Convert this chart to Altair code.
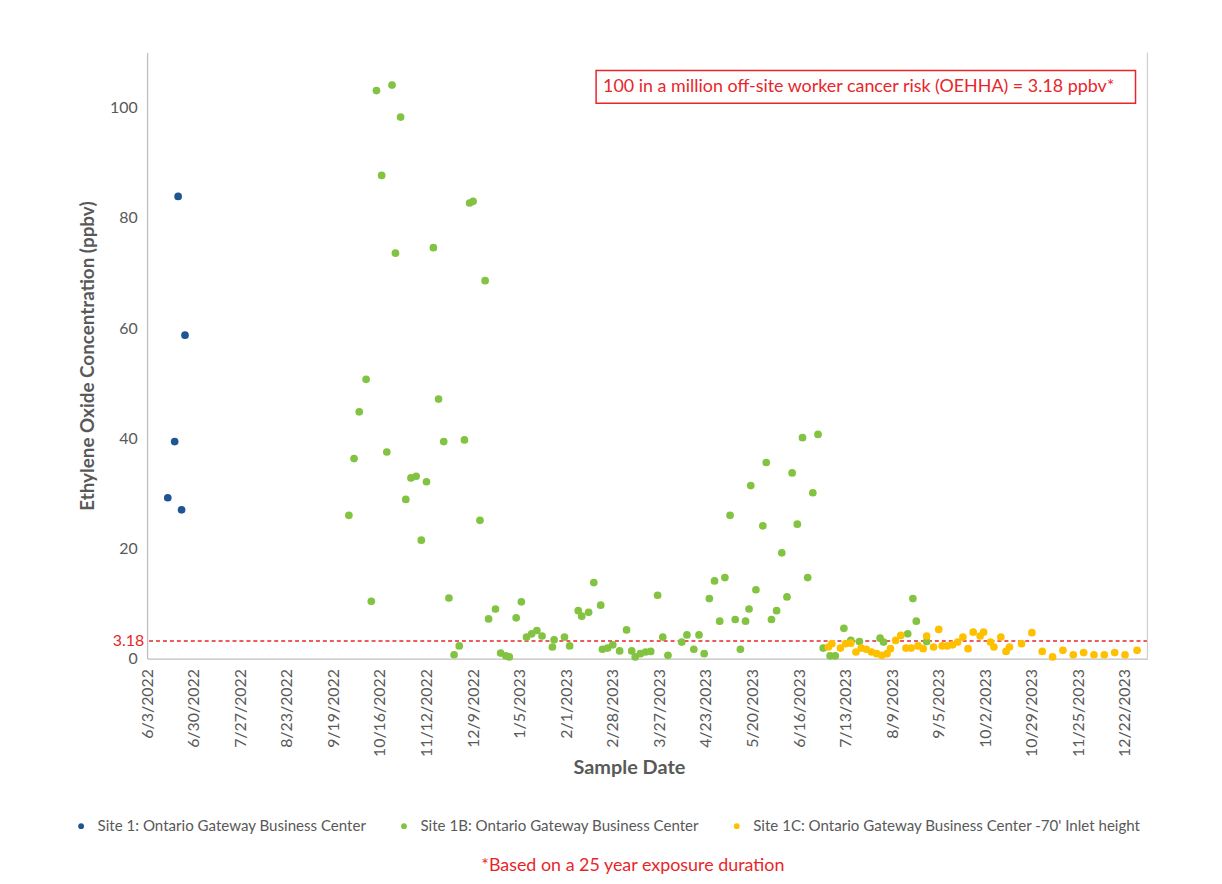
import altair as alt
import pandas as pd

# ---------------- data ----------------
sites = [
    "Site 1: Ontario Gateway Business Center",
    "Site 1B: Ontario Gateway Business Center",
    "Site 1C: Ontario Gateway Business Center -70' Inlet height",
]
site_colors = ["#1F5592", "#82C341", "#FFC000"]

site1_dates = ["6/15/2022", "6/19/2022", "6/21/2022", "6/23/2022", "6/25/2022"]
site1_values = [29.2, 39.4, 83.9, 27.0, 58.7]

site1b_dates = [
    "9/28/2022", "10/1/2022", "10/4/2022", "10/8/2022", "10/11/2022", "10/14/2022",
    "10/17/2022", "10/20/2022", "10/23/2022", "10/25/2022", "10/28/2022", "10/31/2022",
    "11/3/2022", "11/6/2022", "11/9/2022", "11/12/2022", "11/16/2022", "11/19/2022",
    "11/22/2022", "11/25/2022", "11/28/2022", "12/1/2022", "12/4/2022", "12/7/2022",
    "12/9/2022", "12/13/2022", "12/16/2022", "12/18/2022", "12/22/2022", "12/25/2022",
    "12/28/2022", "12/30/2022", "1/3/2023", "1/6/2023", "1/9/2023", "1/12/2023",
    "1/15/2023", "1/18/2023", "1/24/2023", "1/25/2023", "1/31/2023", "2/3/2023",
    "2/8/2023", "2/10/2023", "2/14/2023", "2/17/2023", "2/21/2023", "2/22/2023",
    "2/25/2023", "2/28/2023", "3/4/2023", "3/8/2023", "3/11/2023", "3/13/2023",
    "3/16/2023", "3/19/2023", "3/22/2023", "3/26/2023", "3/29/2023", "4/1/2023",
    "4/9/2023", "4/12/2023", "4/16/2023", "4/19/2023", "4/22/2023", "4/25/2023",
    "4/28/2023", "5/1/2023", "5/4/2023", "5/7/2023", "5/10/2023", "5/13/2023",
    "5/16/2023", "5/18/2023", "5/19/2023", "5/22/2023", "5/26/2023", "5/28/2023",
    "5/31/2023", "6/3/2023", "6/6/2023", "6/9/2023", "6/12/2023", "6/15/2023",
    "6/18/2023", "6/21/2023", "6/24/2023", "6/27/2023", "6/30/2023", "7/4/2023",
    "7/7/2023", "7/12/2023", "7/16/2023", "7/21/2023", "8/2/2023", "8/4/2023",
    "8/18/2023", "8/21/2023", "8/23/2023", "8/29/2023",
]
site1b_values = [
    26.0, 36.3, 44.8, 50.7, 10.4, 103.1,
    87.7, 37.5, 104.1, 73.6, 98.3, 28.9,
    32.8, 33.1, 21.5, 32.1, 74.6, 47.1,
    39.4, 11.0, 0.7, 2.3, 39.7, 82.7,
    83.0, 25.1, 68.6, 7.2, 9.0, 1.0,
    0.5, 0.3, 7.4, 10.3, 3.9, 4.5,
    5.1, 4.1, 2.1, 3.4, 3.9, 2.3,
    8.7, 7.7, 8.4, 13.8, 9.7, 1.7,
    1.9, 2.5, 1.4, 5.2, 1.4, 0.3,
    0.9, 1.2, 1.3, 11.5, 3.9, 0.6,
    3.0, 4.3, 1.7, 4.3, 0.9, 10.9,
    14.1, 6.8, 14.7, 26.0, 7.1, 1.7,
    6.8, 9.0, 31.4, 12.5, 24.1, 35.6,
    7.1, 8.7, 19.2, 11.2, 33.7, 24.4,
    40.1, 14.7, 30.1, 40.7, 1.9, 0.5,
    0.5, 5.5, 3.3, 3.1, 3.7, 3.0,
    4.5, 10.9, 6.8, 3.1,
]

site1c_dates = [
    "7/3/2023", "7/5/2023", "7/10/2023", "7/13/2023", "7/16/2023", "7/19/2023",
    "7/22/2023", "7/25/2023", "7/28/2023", "7/31/2023", "8/3/2023", "8/6/2023",
    "8/8/2023", "8/11/2023", "8/14/2023", "8/17/2023", "8/20/2023", "8/24/2023",
    "8/27/2023", "8/29/2023", "9/2/2023", "9/5/2023", "9/7/2023", "9/10/2023",
    "9/13/2023", "9/16/2023", "9/19/2023", "9/22/2023", "9/25/2023", "9/29/2023",
    "10/1/2023", "10/5/2023", "10/7/2023", "10/11/2023", "10/14/2023", "10/16/2023",
    "10/23/2023", "10/29/2023", "11/4/2023", "11/10/2023", "11/16/2023", "11/22/2023",
    "11/28/2023", "12/4/2023", "12/10/2023", "12/16/2023", "12/22/2023", "12/29/2023",
]
site1c_values = [
    2.1, 2.7, 1.9, 2.7, 2.8, 1.2,
    1.9, 1.7, 1.2, 0.9, 0.6, 0.9,
    1.8, 3.3, 4.2, 1.9, 1.9, 2.3,
    1.8, 4.1, 2.1, 5.3, 2.3, 2.3,
    2.5, 3.0, 3.9, 1.8, 4.8, 4.1,
    4.8, 3.0, 2.1, 3.9, 1.3, 2.1,
    2.7, 4.7, 1.3, 0.3, 1.5, 0.7,
    1.1, 0.7, 0.7, 1.1, 0.7, 1.5,
]

x_tick_labels = [
    "6/3/2022", "6/30/2022", "7/27/2022", "8/23/2022", "9/19/2022", "10/16/2022",
    "11/12/2022", "12/9/2022", "1/5/2023", "2/1/2023", "2/28/2023", "3/27/2023",
    "4/23/2023", "5/20/2023", "6/16/2023", "7/13/2023", "8/9/2023", "9/5/2023",
    "10/2/2023", "10/29/2023", "11/25/2023", "12/22/2023",
]
x_domain = ["6/3/2022", "1/4/2024"]
y_ticks = [0, 20, 40, 60, 80, 100]
y_domain = [0, 110]
threshold = 3.18
threshold_label = "3.18"
box_text = "100 in a million off-site worker cancer risk (OEHHA) = 3.18 ppbv*"
footnote = "*Based on a 25 year exposure duration"

# ---------------- helpers ----------------
def to_iso(s):
    m, d, y = s.split("/")
    return f"{y}-{int(m):02d}-{int(d):02d}"

def to_dt(s):
    m, d, y = s.split("/")
    return alt.DateTime(year=int(y), month=int(m), date=int(d), utc=True)

rows = []
for name, ds, vs in [(sites[0], site1_dates, site1_values),
                     (sites[1], site1b_dates, site1b_values),
                     (sites[2], site1c_dates, site1c_values)]:
    for d, v in zip(ds, vs):
        rows.append({"date": to_iso(d), "value": v, "site": name})
df = pd.DataFrame(rows)

RED = "#E8262A"
GRAY = "#595959"
FONT = "Lato"
W, H = 1007, 610

points = alt.Chart(df).mark_circle(size=60, opacity=1).encode(
    x=alt.X(
        "date:T",
        scale=alt.Scale(type="utc", domain=[to_dt(x_domain[0]), to_dt(x_domain[1])]),
        axis=alt.Axis(
            values=[to_dt(t) for t in x_tick_labels],
            labelExpr="utcFormat(datum.value, '%-m/%-d/%Y')",
            labelAngle=-90,
            labelPadding=10,
            labelFontSize=16,
            title="Sample Date",
            titleFontSize=20,
            titleFontWeight="bold",
            titleX=485,
            titleY=110,
            titleBaseline="middle",
        ),
    ),
    y=alt.Y(
        "value:Q",
        scale=alt.Scale(domain=y_domain, nice=False),
        axis=alt.Axis(
            values=y_ticks,
            labelPadding=10,
            labelFontSize=16,
            title="Ethylene Oxide Concentration (ppbv)",
            titleFontSize=19,
            titleFontWeight="bold",
            titleX=-60,
            titleY=H / 2,
            titleBaseline="middle",
        ),
    ),
    color=alt.Color(
        "site:N",
        scale=alt.Scale(domain=sites, range=site_colors),
        legend=alt.Legend(
            title=None,
            orient="none",
            direction="horizontal",
            legendX=-74,
            legendY=771,
            symbolType="circle",
            symbolSize=34,
            labelFontSize=15.2,
            labelColor=GRAY,
            labelFont=FONT,
            labelLimit=700,
            labelOffset=9,
            columnPadding=30,
            padding=0,
        ),
    ),
)

thr_df = pd.DataFrame({"y": [threshold], "label": [threshold_label]})
rule = alt.Chart(thr_df).mark_rule(color=RED, strokeDash=[4, 3], strokeWidth=1.6).encode(
    y="y:Q"
)
thr_text = alt.Chart(thr_df).mark_text(
    align="right", baseline="middle", color=RED, fontSize=16, font=FONT, dx=-3
).encode(y="y:Q", x=alt.value(0), text="label:N")

right_border = alt.Chart(thr_df).mark_rule(color="#D0D0D0", strokeWidth=1.2).encode(
    x=alt.value(W), y=alt.value(0), y2=alt.value(H)
)

note_df = pd.DataFrame({"t": [box_text]})
box = alt.Chart(note_df).mark_rect(fill="white", stroke=RED, strokeWidth=1.5).encode(
    x=alt.value(452), x2=alt.value(995), y=alt.value(18), y2=alt.value(51)
)
box_label = alt.Chart(note_df).mark_text(
    align="left", baseline="middle", color=RED, fontSize=18, font=FONT
).encode(x=alt.value(459), y=alt.value(35), text="t:N")

foot_df = pd.DataFrame({"t": [footnote]})
foot = alt.Chart(foot_df).mark_text(
    align="center", baseline="middle", color=RED, fontSize=18, font=FONT
).encode(x=alt.value(489), y=alt.value(819), text="t:N")

chart = alt.layer(rule, right_border, points, thr_text, box, box_label, foot).properties(
    width=W,
    height=H,
    padding={"left": 140, "top": 42, "right": 67, "bottom": 224},
    autosize=alt.AutoSizeParams(type="none"),
).configure_view(stroke=None).configure_axis(
    grid=False,
    ticks=False,
    domainColor="#BFBFBF",
    domainWidth=1.3,
    labelColor=GRAY,
    titleColor=GRAY,
    labelFont=FONT,
    titleFont=FONT,
)

chart.save("out.html", embed_options={"renderer": "svg", "actions": False})
